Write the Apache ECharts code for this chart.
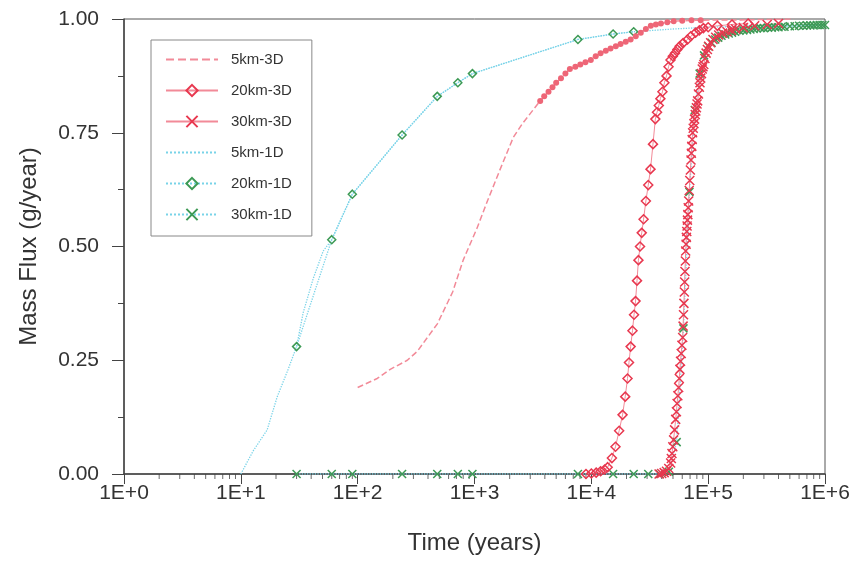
<!DOCTYPE html>
<html><head><meta charset="utf-8">
<script src="https://cdn.jsdelivr.net/npm/echarts@6/dist/echarts.min.js"></script>
<style>html,body{margin:0;padding:0;background:#fff}#c{width:855px;height:565px}</style>
</head><body><div id="c"></div>
<script>
// ---- data ----
const seriesNames = ['5km-3D', '20km-3D', '30km-3D', '5km-1D', '20km-1D', '30km-1D'];

const t_5km3D = [100, 147, 190, 266, 325, 395, 481, 650, 800, 1050, 1290, 1660, 2150, 2570, 3650, 3950, 4300, 4650, 5000, 5500, 6000, 6550, 7300, 8050, 8900, 9900, 10900, 12000, 13300, 14600, 16200, 17800, 19700, 21700, 24000, 26500, 29300, 32300, 35700, 39400, 44700, 50700, 60000, 72000, 86300, 120000, 190000, 300000, 540000];
const v_5km3D = [0.19, 0.21, 0.23, 0.25, 0.27, 0.30, 0.33, 0.40, 0.47, 0.54, 0.60, 0.67, 0.74, 0.77, 0.82, 0.83, 0.84, 0.85, 0.86, 0.87, 0.88, 0.89, 0.895, 0.90, 0.905, 0.91, 0.918, 0.925, 0.93, 0.935, 0.94, 0.945, 0.95, 0.955, 0.962, 0.97, 0.978, 0.985, 0.988, 0.99, 0.993, 0.995, 0.996, 0.997, 0.997, 0.998, 0.998, 0.999, 1.0];

const t_20km3D = [9000, 10000, 11000, 12000, 13000, 13800, 15000, 16100, 17300, 18500, 19500, 20400, 21000, 21700, 22500, 23200, 23900, 24600, 25300, 26100, 27000, 28000, 29300, 30700, 32100, 33700, 35300, 36500, 37800, 39000, 40600, 42200, 44000, 45800, 47600, 49800, 52000, 54500, 57000, 61000, 66600, 71000, 78000, 84000, 91000, 100000, 120000, 160000, 220000];
const v_20km3D = [0, 0.001, 0.003, 0.006, 0.01, 0.015, 0.035, 0.06, 0.095, 0.13, 0.17, 0.21, 0.245, 0.28, 0.315, 0.35, 0.38, 0.425, 0.47, 0.50, 0.53, 0.56, 0.60, 0.635, 0.67, 0.725, 0.78, 0.795, 0.81, 0.825, 0.84, 0.86, 0.875, 0.895, 0.91, 0.918, 0.925, 0.933, 0.94, 0.947, 0.955, 0.962, 0.97, 0.975, 0.98, 0.982, 0.985, 0.988, 0.99];

const t_30km3D = [38000, 40000, 42000, 44000, 46000, 47700, 48400, 49000, 49800, 50600, 51600, 52700, 53500, 54200, 55000, 55900, 56600, 57300, 58000, 58800, 59600, 60500, 61000, 61500, 62000, 62500, 62900, 63300, 63800, 64200, 64700, 65100, 65600, 66000, 66500, 67000, 67500, 68100, 68800, 69600, 70400, 71300, 71800, 72400, 73000, 73600, 74500, 75500, 76500, 77500, 78400, 79300, 80300, 81300, 82600, 84000, 85100, 86300, 87600, 89000, 90300, 91700, 93800, 96000, 98500, 101000, 105000, 110000, 116000, 123000, 133000, 145000, 158000, 172000, 200000, 250000, 320000, 400000];
const v_30km3D = [0, 0.001, 0.003, 0.006, 0.012, 0.024, 0.034, 0.045, 0.06, 0.075, 0.097, 0.12, 0.137, 0.155, 0.172, 0.19, 0.21, 0.23, 0.248, 0.265, 0.283, 0.30, 0.325, 0.35, 0.375, 0.40, 0.422, 0.445, 0.468, 0.49, 0.505, 0.52, 0.533, 0.545, 0.558, 0.57, 0.585, 0.60, 0.623, 0.645, 0.668, 0.69, 0.705, 0.72, 0.735, 0.75, 0.76, 0.77, 0.78, 0.79, 0.798, 0.805, 0.813, 0.82, 0.835, 0.85, 0.86, 0.87, 0.88, 0.89, 0.895, 0.90, 0.913, 0.925, 0.933, 0.94, 0.948, 0.955, 0.96, 0.965, 0.969, 0.972, 0.975, 0.978, 0.981, 0.985, 0.988, 0.99];

const t_5km1D = [10, 12.7, 16.8, 20.5, 25.4, 30, 34.2, 41.7, 50.7, 60, 90, 240, 480, 720, 960, 7680, 15360, 23040, 50000, 100000, 300000, 1000000];
const v_5km1D = [0, 0.05, 0.097, 0.17, 0.23, 0.28, 0.355, 0.43, 0.49, 0.515, 0.615, 0.745, 0.83, 0.86, 0.88, 0.955, 0.967, 0.972, 0.978, 0.982, 0.985, 0.987];

const t_20km1D = [30, 60, 90, 240, 480, 720, 960, 7680, 15360, 23040];
const v_20km1D = [0.28, 0.515, 0.615, 0.745, 0.83, 0.86, 0.88, 0.955, 0.967, 0.972];

const t_30km1D = [30, 60, 90, 240, 480, 720, 960, 7680, 15360, 23040, 30720, 38400, 46080, 53760, 61440, 69120, 76800, 84480, 92160, 100000, 107000, 115000, 122000, 130000, 140000, 150000, 160000, 170000, 185000, 200000, 215000, 230000, 245000, 260000, 280000, 300000, 325000, 350000, 375000, 400000, 425000, 450000, 500000, 550000, 600000, 650000, 700000, 750000, 800000, 850000, 900000, 950000, 1000000];
const v_30km1D = [0, 0, 0, 0, 0, 0, 0, 0, 0, 0, 0, 0, 0.005, 0.07, 0.32, 0.62, 0.80, 0.88, 0.92, 0.94, 0.948, 0.955, 0.959, 0.963, 0.966, 0.968, 0.97, 0.972, 0.974, 0.975, 0.976, 0.977, 0.978, 0.979, 0.98, 0.98, 0.981, 0.981, 0.982, 0.982, 0.983, 0.983, 0.984, 0.984, 0.985, 0.985, 0.986, 0.986, 0.986, 0.987, 0.987, 0.987, 0.987];

const yTicks = [0, 0.25, 0.5, 0.75, 1.0];
const xDecades = [0, 1, 2, 3, 4, 5, 6];
const xMinorMultipliers = [2, 3, 4, 5, 6, 7, 8, 9];

// ---- chart ----
function pairs(t, v) { return t.map((x, i) => [x, v[i]]); }
const RED = '#e8384f', PINK = '#f28a98', GREEN = '#3d9a55', CYAN = '#79d3e8';
const XPATH = 'path://M0,0L10,10M10,0L0,10';
const HIDE = { color: 'rgba(0,0,0,0)', borderColor: 'rgba(0,0,0,0)', borderWidth: 0 };

const minorTickData = [];
xDecades.slice(0, -1).forEach(d => xMinorMultipliers.forEach(m => minorTickData.push([m * Math.pow(10, d), 0])));

const chart = echarts.init(document.getElementById('c'), null, { renderer: 'canvas' });
const option = {
  animation: false,
  backgroundColor: '#fff',
  textStyle: { fontFamily: '"Liberation Sans", Arial, sans-serif' },
  grid: { left: 124, right: 30, top: 19, bottom: 91, show: true, borderColor: '#555', borderWidth: 1 },
  legend: {
    orient: 'vertical', left: 151, top: 40,
    padding: [12, 20, 14, 14], itemGap: 16, itemWidth: 52, itemHeight: 14,
    borderColor: '#888', borderWidth: 1, backgroundColor: '#fff',
    textStyle: { fontSize: 15, color: '#333', padding: [0, 0, 0, 8] },
    data: seriesNames.map(n => (n === '5km-3D' || n === '5km-1D') ? { name: n, itemStyle: HIDE } : n)
  },
  xAxis: {
    type: 'log', logBase: 10, min: 1, max: 1e6,
    name: 'Time (years)', nameLocation: 'middle', nameGap: 57,
    nameTextStyle: { fontSize: 24, color: '#333' },
    axisLine: { lineStyle: { color: '#444', width: 1.5 } },
    axisTick: { length: 10, lineStyle: { color: '#444' } },
    axisLabel: { fontSize: 21, color: '#333', margin: 9, formatter: v => '1E+' + Math.round(Math.log10(v)) },
    splitLine: { show: false }
  },
  yAxis: {
    type: 'value', min: yTicks[0], max: yTicks[yTicks.length - 1], interval: 0.25,
    name: 'Mass Flux (g/year)', nameLocation: 'middle', nameGap: 83, nameRotate: 90,
    nameTextStyle: { fontSize: 24, color: '#333' },
    axisLine: { show: true, lineStyle: { color: '#444', width: 1.5 } },
    axisTick: { show: true, length: 12, lineStyle: { color: '#444' } },
    minorTick: { show: true, splitNumber: 2, length: 6, lineStyle: { color: '#444' } },
    axisLabel: { fontSize: 21, color: '#333', margin: 25, formatter: v => v.toFixed(2) },
    splitLine: { show: false }
  },
  series: [
    {
      name: 'xMinorTicks', type: 'scatter', data: minorTickData, symbol: 'rect',
      symbolSize: [1, 5], symbolOffset: [0, 2.5], clip: false, silent: true,
      itemStyle: { color: '#444' }, z: 1
    },
    {
      name: '5km-1D', type: 'line', data: pairs(t_5km1D, v_5km1D), symbol: 'none',
      lineStyle: { color: CYAN, width: 1.3, type: 'dotted' }, itemStyle: { color: CYAN }
    },
    {
      name: '20km-1D', type: 'line', data: pairs(t_20km1D, v_20km1D), symbol: 'diamond', symbolSize: 8,
      showAllSymbol: true,
      lineStyle: { color: CYAN, width: 1.3, type: 'dotted' },
      itemStyle: { color: 'rgba(255,255,255,0)', borderColor: GREEN, borderWidth: 1.5 }
    },
    {
      name: '30km-1D', type: 'line', data: pairs(t_30km1D, v_30km1D), symbol: XPATH, symbolSize: 8,
      showAllSymbol: true,
      lineStyle: { color: CYAN, width: 1.3, type: 'dotted' },
      itemStyle: { color: GREEN, borderColor: GREEN, borderWidth: 1.5 }
    },
    {
      name: '5km-3D', type: 'line', symbol: 'none', showAllSymbol: true,
      data: t_5km3D.map((t, i) => ({ value: [t, v_5km3D[i]], symbol: (t >= 3650 && t <= 90000) ? 'circle' : 'none', symbolSize: 6 })),
      lineStyle: { color: PINK, width: 1.5, type: 'dashed' },
      itemStyle: { color: '#ee6677' }
    },
    {
      name: '20km-3D', type: 'line', data: pairs(t_20km3D, v_20km3D), symbol: 'diamond', symbolSize: 9,
      showAllSymbol: true,
      lineStyle: { color: PINK, width: 1 },
      itemStyle: { color: 'rgba(255,255,255,0)', borderColor: RED, borderWidth: 1.5 }
    },
    {
      name: '30km-3D', type: 'line', data: pairs(t_30km3D, v_30km3D), symbol: XPATH, symbolSize: 9,
      showAllSymbol: true,
      lineStyle: { color: PINK, width: 1 },
      itemStyle: { color: RED, borderColor: RED, borderWidth: 1.5 }
    }
  ]
};
chart.setOption(option);
</script>
</body></html>
